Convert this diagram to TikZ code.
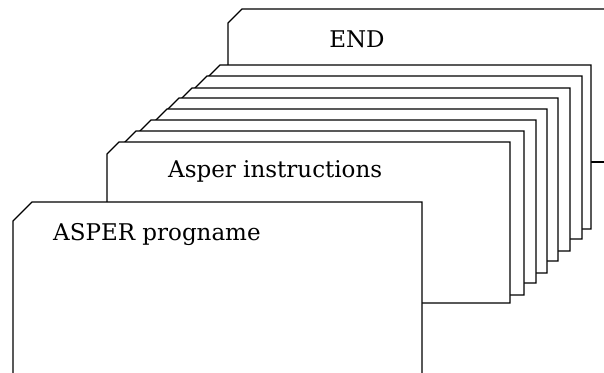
\documentclass[tikz,border=0pt]{standalone}
\usepackage{fontspec}
\setmainfont{DejaVu Serif}
\begin{document}
\begin{tikzpicture}[x=1pt,y=-1pt,
  cardline/.style={draw=black,fill=white,line width=1.2pt,line join=miter},
  cardtext/.style={inner sep=0pt,anchor=base west,font=\fontsize{23}{27}\selectfont}]
\useasboundingbox (0,0) rectangle (604,372);
\clip (0,0) rectangle (604,372);
% END card (back)
\path[cardline] (228,170) -- (228,23) -- (242,9) -- (620,9) -- (620,162) -- (228,162);
\draw[line width=1.2pt] (228,162) -- (620,162);
% stacked instruction cards, back to front: xs, top, right, bottom
\foreach \xs/\t/\r/\b in {220/65/591/229, 207/76/582/239, 192/88/570/251, 179/98/558/261, 167/109/547/273, 151/120/536/283, 136/131/524/295, 119/142/510/303}{
  \path[cardline] (\xs-12,\b) -- (\xs-12,\t+12) -- (\xs,\t) -- (\r,\t) -- (\r,\b) -- cycle;
}
% ASPER progname card (front)
\path[cardline] (13,400) -- (13,221) -- (32,202) -- (422,202) -- (422,400) -- cycle;
\node[cardtext,anchor=base] (endtext) at (357,47) {END};
\node[cardtext] (instr) at (168,177) {Asper instructions};
\node[cardtext] (prog) at (53,240) {ASPER progname};
\end{tikzpicture}
\end{document}
